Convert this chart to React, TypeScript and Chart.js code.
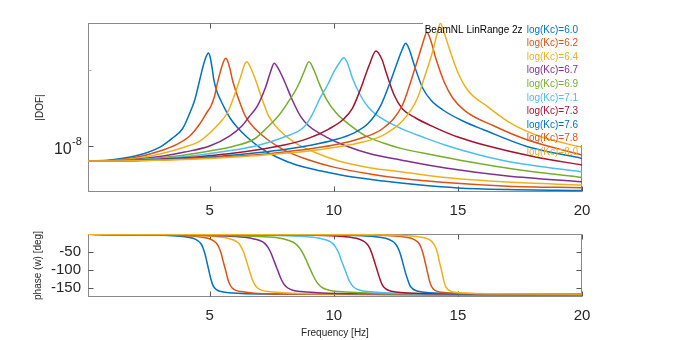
import React, { useEffect, useRef } from 'react';
import { Chart, registerables } from 'chart.js';

Chart.register(...registerables);

const FONT = '"Liberation Sans", Arial, Helvetica, sans-serif';
const TEXT = '#262626';
const AXIS = '#8a8a8a';

const COLORS = ['#0072BD', '#D95319', '#EDB120', '#7E2F8E', '#77AC30', '#4DBEEE', '#A2142F', '#0072BD', '#D95319', '#EDB120'];
const LABELS = ['log(Kc)=6.0', 'log(Kc)=6.2', 'log(Kc)=6.4', 'log(Kc)=6.7', 'log(Kc)=6.9', 'log(Kc)=7.1', 'log(Kc)=7.3', 'log(Kc)=7.6', 'log(Kc)=7.8', 'log(Kc)=8.0'];
const LEGEND_TITLE = 'BeamNL LinRange 2z';

const X_TICKS = [5, 10, 15, 20];
const MAG_TICKS = [1e-8];
const MAG_MINOR = [2e-8];
const PHASE_TICKS = [-150, -100, -50];
const MAG_UNIT = 1e-8; // magnitudes below are given in units of 1e-8

// ---- |DOF| magnitude (x 1e-8) ----
const F_MAG_60 = [0.1, 1, 2, 3, 3.5, 3.9, 4.2, 4.4, 4.6, 4.75, 4.87, 4.95, 5.02, 5.1, 5.17, 5.3, 5.44, 5.6, 5.85, 6.1, 6.5, 7, 7.7, 8.5, 9.5, 10.5, 12, 13.5, 15, 17, 20];
const MAG_60 = [0.873, 0.881, 0.913, 0.991, 1.075, 1.167, 1.35, 1.519, 1.822, 2.087, 2.265, 2.327, 2.244, 2.031, 1.822, 1.633, 1.519, 1.412, 1.278, 1.188, 1.085, 0.991, 0.905, 0.842, 0.797, 0.762, 0.728, 0.702, 0.684, 0.674, 0.668];

const F_MAG_62 = [0.1, 1, 2, 3, 3.7, 4.2, 4.6, 4.9, 5.04, 5.2, 5.31, 5.45, 5.57, 5.65, 5.74, 5.83, 5.92, 6.18, 6.45, 6.8, 7.3, 8, 9, 10, 11.5, 12.7, 14.5, 17, 20];
const MAG_62 = [0.873, 0.877, 0.901, 0.956, 1.018, 1.095, 1.221, 1.362, 1.429, 1.575, 1.767, 1.994, 2.164, 2.218, 2.145, 1.994, 1.822, 1.519, 1.305, 1.178, 1.066, 0.964, 0.881, 0.826, 0.775, 0.746, 0.718, 0.695, 0.685];

const F_MAG_64 = [0.1, 1, 2, 3, 4, 4.6, 5, 5.4, 5.71, 5.98, 6.25, 6.4, 6.5, 6.6, 6.85, 7.125, 7.39, 7.8, 8.4, 9.2, 10.2, 11.5, 12.7, 14.5, 17, 20];
const MAG_64 = [0.873, 0.875, 0.893, 0.93, 0.991, 1.046, 1.125, 1.232, 1.35, 1.565, 1.877, 2.087, 2.15, 2.087, 1.822, 1.519, 1.305, 1.157, 1.037, 0.947, 0.873, 0.819, 0.792, 0.751, 0.721, 0.702];

const F_MAG_67 = [0.1, 1, 2, 3, 4, 5, 5.8, 6.3, 6.58, 6.92, 7.26, 7.45, 7.6, 7.75, 7.99, 8.33, 8.67, 9, 9.7, 10.5, 11.5, 12.7, 14.5, 17, 20];
const MAG_67 = [0.873, 0.8745, 0.886, 0.909, 0.947, 1.0, 1.095, 1.199, 1.301, 1.438, 1.713, 1.958, 2.12, 2.031, 1.822, 1.519, 1.305, 1.199, 1.085, 1.0, 0.93, 0.881, 0.819, 0.762, 0.723];

const F_MAG_69 = [0.1, 1, 2, 3, 4, 5, 6, 6.8, 7.3, 7.73, 8.13, 8.54, 8.8, 9, 9.2, 9.41, 9.7, 10.1, 10.6, 11.3, 12, 12.7, 14, 15.5, 17.5, 20];
const MAG_69 = [0.873, 0.874, 0.882, 0.899, 0.922, 0.956, 1.0, 1.066, 1.178, 1.301, 1.474, 1.713, 1.958, 2.15, 1.994, 1.767, 1.532, 1.35, 1.221, 1.095, 1.028, 0.979, 0.922, 0.865, 0.804, 0.752];

const F_MAG_71 = [0.1, 1, 2, 3, 4, 5, 6, 7, 8, 8.8, 9.1, 9.48, 9.75, 10.01, 10.25, 10.4, 10.55, 10.75, 11.09, 11.42, 11.9, 12.7, 13.7, 14.7, 16.73, 18.5, 20];
const MAG_71 = [0.873, 0.873, 0.881, 0.893, 0.909, 0.934, 0.964, 1.009, 1.085, 1.188, 1.313, 1.565, 1.74, 1.964, 2.145, 2.23, 2.126, 1.854, 1.575, 1.412, 1.29, 1.174, 1.075, 0.994, 0.881, 0.826, 0.792];

const F_MAG_73 = [0.1, 1, 2, 3, 4, 5, 6, 7, 8, 9, 9.8, 10.4, 10.75, 11.09, 11.43, 11.7, 11.95, 12.1, 12.43, 12.77, 13.3, 14.04, 15, 16.06, 18.08, 20];
const MAG_73 = [0.873, 0.873, 0.878, 0.888, 0.899, 0.917, 0.938, 0.969, 1.009, 1.075, 1.167, 1.278, 1.408, 1.689, 2.087, 2.37, 2.184, 1.964, 1.589, 1.4, 1.29, 1.188, 1.085, 1.009, 0.907, 0.842];

const F_MAG_76 = [0.1, 1, 2, 3, 4, 5, 6, 7, 8, 9, 10, 10.8, 11.4, 11.9, 12.23, 12.57, 12.75, 12.9, 13.05, 13.24, 13.58, 13.91, 14.4, 15.2, 16.06, 17.81, 20];
const MAG_76 = [0.873, 0.873, 0.877, 0.884, 0.893, 0.905, 0.922, 0.943, 0.969, 1.005, 1.056, 1.125, 1.232, 1.451, 1.74, 2.15, 2.391, 2.542, 2.391, 2.087, 1.694, 1.519, 1.387, 1.255, 1.157, 0.994, 0.894];

const F_MAG_78 = [0.1, 1, 2, 3, 4, 5, 6, 7, 8, 9, 10, 11, 12, 12.77, 13.1, 13.44, 13.6, 13.75, 13.9, 14.11, 14.45, 14.79, 15.3, 16.46, 17.81, 20];
const MAG_78 = [0.873, 0.873, 0.876, 0.881, 0.889, 0.899, 0.911, 0.926, 0.947, 0.973, 1.009, 1.066, 1.178, 1.451, 1.793, 2.286, 2.572, 2.809, 2.619, 2.218, 1.788, 1.547, 1.374, 1.199, 1.056, 0.922];

const F_MAG_80 = [0.1, 1, 2, 3, 4, 5, 6, 7, 8, 9, 10, 11, 12, 12.8, 13.37, 13.64, 13.98, 14.15, 14.3, 14.45, 14.65, 14.99, 15.39, 16.2, 17.14, 18.35, 20];
const MAG_80 = [0.873, 0.873, 0.875, 0.88, 0.886, 0.894, 0.905, 0.918, 0.936, 0.957, 0.9865, 1.028, 1.105, 1.266, 1.543, 1.849, 2.355, 2.741, 3.048, 2.791, 2.429, 1.964, 1.663, 1.429, 1.229, 1.088, 0.988];

// ---- phase (deg) ----
const F_PH_60 = [0.1, 1.7, 3.32, 3.92, 4.33, 4.53, 4.65, 4.73, 4.81, 4.87, 4.93, 4.99, 5.05, 5.13, 5.21, 5.33, 5.54, 5.94, 6.95, 20];
const PH_60 = [-1, -2, -4, -7, -12, -19, -27, -38, -55, -72, -90, -108, -125, -142, -151, -157, -161, -164, -167, -170];

const F_PH_62 = [0.1, 2.05, 3.83, 4.49, 4.93, 5.16, 5.29, 5.38, 5.47, 5.53, 5.6, 5.67, 5.73, 5.82, 5.91, 6.04, 6.27, 6.71, 7.82, 20];
const PH_62 = [-1, -2, -4, -7, -12, -19, -27, -38, -55, -72, -90, -108, -125, -141, -150, -156, -160, -164, -167, -169];

const F_PH_64 = [0.1, 2.2, 4.37, 5.19, 5.73, 6.01, 6.17, 6.28, 6.39, 6.47, 6.55, 6.63, 6.71, 6.82, 6.93, 7.09, 7.37, 7.91, 9.27, 20];
const PH_64 = [-1, -2, -4, -7, -12, -18, -26, -37, -54, -72, -90, -108, -125, -141, -150, -156, -160, -163, -166, -169];

const F_PH_67 = [0.1, 2.36, 5.02, 6.02, 6.68, 7.02, 7.22, 7.35, 7.48, 7.58, 7.68, 7.78, 7.88, 8.01, 8.15, 8.35, 8.68, 9.34, 11.01, 20];
const PH_67 = [-1, -2, -4, -7, -12, -18, -26, -37, -54, -72, -90, -108, -125, -141, -150, -156, -160, -163, -166, -168];

const F_PH_69 = [0.1, 2.55, 5.77, 6.98, 7.79, 8.19, 8.44, 8.6, 8.76, 8.88, 9.0, 9.12, 9.24, 9.4, 9.56, 9.81, 10.21, 11.02, 13.03, 20];
const PH_69 = [-1, -2, -4, -7, -11, -18, -26, -37, -54, -71, -90, -108, -125, -141, -150, -156, -160, -163, -166, -168];

const F_PH_71 = [0.1, 5.24, 7.82, 8.79, 9.43, 9.76, 9.95, 10.08, 10.21, 10.3, 10.4, 10.5, 10.59, 10.72, 10.85, 11.05, 11.37, 12.01, 13.63, 20];
const PH_71 = [-1, -2, -4, -7, -12, -18, -26, -37, -54, -72, -90, -108, -125, -141, -150, -156, -160, -163, -166, -167];

const F_PH_73 = [0.1, 7.51, 9.6, 10.39, 10.91, 11.18, 11.33, 11.44, 11.54, 11.62, 11.7, 11.78, 11.86, 11.96, 12.07, 12.22, 12.49, 13.01, 14.32, 20];
const PH_73 = [-1, -2, -4, -7, -12, -19, -27, -38, -55, -72, -90, -108, -125, -142, -151, -157, -161, -164, -166, -167];

const F_PH_76 = [0.1, 8.95, 10.88, 11.61, 12.09, 12.34, 12.48, 12.58, 12.68, 12.75, 12.82, 12.89, 12.97, 13.06, 13.16, 13.3, 13.55, 14.03, 15.24, 20];
const PH_76 = [-1, -2, -4, -7, -12, -19, -27, -38, -55, -72, -90, -108, -125, -142, -151, -157, -161, -164, -166, -167];

const F_PH_78 = [0.1, 10.49, 12.11, 12.71, 13.12, 13.32, 13.44, 13.52, 13.6, 13.66, 13.72, 13.78, 13.84, 13.92, 14.0, 14.12, 14.33, 14.73, 15.74, 20];
const PH_78 = [-1, -2, -4, -7, -12, -19, -27, -38, -55, -72, -90, -108, -126, -143, -152, -158, -162, -164, -166, -167];

const F_PH_80 = [0.1, 11.24, 12.77, 13.34, 13.73, 13.92, 14.03, 14.11, 14.19, 14.24, 14.3, 14.36, 14.42, 14.49, 14.57, 14.68, 14.88, 15.26, 16.22, 20];
const PH_80 = [-1, -2, -4, -7, -12, -19, -28, -39, -56, -73, -90, -107, -126, -143, -152, -158, -162, -164, -166, -167];

const MAG_SERIES: [number[], number[]][] = [
  [F_MAG_60, MAG_60], [F_MAG_62, MAG_62], [F_MAG_64, MAG_64], [F_MAG_67, MAG_67], [F_MAG_69, MAG_69],
  [F_MAG_71, MAG_71], [F_MAG_73, MAG_73], [F_MAG_76, MAG_76], [F_MAG_78, MAG_78], [F_MAG_80, MAG_80],
];
const PH_SERIES: [number[], number[]][] = [
  [F_PH_60, PH_60], [F_PH_62, PH_62], [F_PH_64, PH_64], [F_PH_67, PH_67], [F_PH_69, PH_69],
  [F_PH_71, PH_71], [F_PH_73, PH_73], [F_PH_76, PH_76], [F_PH_78, PH_78], [F_PH_80, PH_80],
];

const X_MIN = 0.1;
const X_MAX = 20;
const MAG_MIN = 0.659e-8;
const MAG_MAX = 3.055e-8;
const PH_MIN = -175;
const PH_MAX = 0;

function makeDatasets(series: [number[], number[]][], scale: number) {
  return series.map(([fs, vs], i) => ({
    label: LABELS[i],
    data: fs.map((f, j) => ({ x: f, y: vs[j] * scale })),
    borderColor: COLORS[i],
    backgroundColor: COLORS[i],
    borderWidth: 1.5,
    pointRadius: 0,
    fill: false,
    cubicInterpolationMode: 'monotone' as const,
    order: series.length - i,
  }));
}

function framePlugin(yTicks: number[], yMinor: number[], withLegend: boolean) {
  return {
    id: 'frame' + (withLegend ? 'Top' : 'Bottom'),
    beforeDatasetsDraw(chart: any) {
      const { ctx, chartArea: a, scales } = chart;
      const L = Math.round(a.left) + 0.5;
      const R = Math.round(a.right) - 0.5;
      const T = Math.round(a.top) + 0.5;
      const B = Math.round(a.bottom) - 0.5;
      ctx.save();
      ctx.lineWidth = 1;
      ctx.strokeStyle = AXIS;
      ctx.strokeRect(L, T, R - L, B - T);
      ctx.strokeStyle = '#555555';
      ctx.beginPath();
      X_TICKS.forEach((v) => {
        const px = Math.round(scales.x.getPixelForValue(v)) + 0.5;
        ctx.moveTo(px, B); ctx.lineTo(px, B - 5);
        ctx.moveTo(px, T); ctx.lineTo(px, T + 5);
      });
      yTicks.forEach((v) => {
        const py = Math.round(scales.y.getPixelForValue(v)) + 0.5;
        ctx.moveTo(L, py); ctx.lineTo(L + 5, py);
        ctx.moveTo(R, py); ctx.lineTo(R - 5, py);
      });
      ctx.stroke();
      ctx.strokeStyle = '#b0b0b0';
      ctx.beginPath();
      yMinor.forEach((v) => {
        const py = Math.round(scales.y.getPixelForValue(v)) + 0.5;
        ctx.moveTo(L, py); ctx.lineTo(L + 3, py);
        ctx.moveTo(R, py); ctx.lineTo(R - 3, py);
      });
      ctx.stroke();
      if (withLegend) {
        ctx.fillStyle = '#ffffff';
        ctx.fillRect(a.right - 159, a.top - 10, 172, 132);
      }
      ctx.restore();
    },
    afterDatasetsDraw(chart: any) {
      if (!withLegend) return;
      const { ctx, chartArea: a, scales } = chart;
      ctx.save();
      ctx.textBaseline = 'middle';
      ctx.textAlign = 'left';
      ctx.font = `10px ${FONT}`;
      ctx.fillStyle = '#000000';
      ctx.fillText(LEGEND_TITLE, a.right - 157.3, a.top + 7);
      LABELS.forEach((lab, i) => {
        ctx.fillStyle = COLORS[i];
        ctx.fillText(lab, a.right - 55.3, a.top + 7 + i * 13.55);
      });
      // y tick label 10^-8
      const py = scales.y.getPixelForValue(MAG_TICKS[0]);
      ctx.fillStyle = TEXT;
      ctx.font = `16px ${FONT}`;
      ctx.textAlign = 'right';
      ctx.fillText('10', a.left - 16.3, py + 4);
      ctx.font = `11px ${FONT}`;
      ctx.textAlign = 'left';
      ctx.fillText('-8', a.left - 16, py - 4);
      ctx.restore();
    },
  };
}

function xScale(withTitle: boolean, height: number) {
  return {
    type: 'linear' as const,
    min: X_MIN,
    max: X_MAX,
    grid: { display: false, drawTicks: false },
    border: { display: false },
    ticks: { font: { family: FONT, size: 15 }, color: TEXT, padding: 10, autoSkip: false, maxRotation: 0 },
    title: {
      display: withTitle,
      text: 'Frequency [Hz]',
      color: TEXT,
      font: { family: FONT, size: 10 },
      padding: { top: 0, bottom: 1 },
    },
    afterBuildTicks: (s: any) => { s.ticks = X_TICKS.map((v) => ({ value: v })); },
    afterFit: (s: any) => { s.height = height; },
  };
}

export default function App() {
  const topRef = useRef<HTMLCanvasElement>(null);
  const botRef = useRef<HTMLCanvasElement>(null);

  useEffect(() => {
    const top = new Chart(topRef.current as HTMLCanvasElement, {
      type: 'line',
      data: { datasets: makeDatasets(MAG_SERIES, MAG_UNIT) as any },
      options: {
        animation: false,
        responsive: false,
        devicePixelRatio: 1,
        layout: { padding: { top: 23, right: 98, left: 0, bottom: 0 } },
        plugins: { legend: { display: false }, tooltip: { enabled: false } },
        scales: {
          x: xScale(false, 23) as any,
          y: {
            type: 'logarithmic',
            min: MAG_MIN,
            max: MAG_MAX,
            grid: { display: false, drawTicks: false },
            border: { display: false },
            ticks: { callback: () => '', font: { family: FONT, size: 15 } },
            title: {
              display: true,
              text: '|DOF|',
              color: TEXT,
              font: { family: FONT, size: 10 },
              padding: { top: 34, bottom: 0 },
            },
            afterBuildTicks: (s: any) => { s.ticks = [...MAG_TICKS, ...MAG_MINOR].map((v) => ({ value: v })); },
            afterFit: (s: any) => { s.width = 88; },
          } as any,
        },
      },
      plugins: [framePlugin(MAG_TICKS, MAG_MINOR, true)],
    });

    const bot = new Chart(botRef.current as HTMLCanvasElement, {
      type: 'line',
      data: { datasets: makeDatasets(PH_SERIES, 1) as any },
      options: {
        animation: false,
        responsive: false,
        devicePixelRatio: 1,
        layout: { padding: { top: 19, right: 98, left: 0, bottom: 0 } },
        plugins: { legend: { display: false }, tooltip: { enabled: false } },
        scales: {
          x: xScale(true, 43) as any,
          y: {
            type: 'linear',
            min: PH_MIN,
            max: PH_MAX,
            grid: { display: false, drawTicks: false },
            border: { display: false },
            ticks: { font: { family: FONT, size: 15 }, color: TEXT, padding: 7 },
            title: {
              display: true,
              text: 'phase (w) [deg]',
              color: TEXT,
              font: { family: FONT, size: 10 },
              padding: { top: 32, bottom: 0 },
            },
            afterBuildTicks: (s: any) => { s.ticks = PHASE_TICKS.map((v) => ({ value: v })); },
            afterFit: (s: any) => { s.width = 88; },
          } as any,
        },
      },
      plugins: [framePlugin(PHASE_TICKS, [], false)],
    });

    return () => {
      top.destroy();
      bot.destroy();
    };
  }, []);

  return (
    <div style={{ position: 'fixed', left: 0, top: 0, width: 680, height: 340, background: '#ffffff' }}>
      <canvas ref={topRef} width={680} height={215} style={{ position: 'absolute', left: 0, top: 0, width: 680, height: 215 }} />
      <canvas ref={botRef} width={680} height={125} style={{ position: 'absolute', left: 0, top: 215, width: 680, height: 125 }} />
    </div>
  );
}
